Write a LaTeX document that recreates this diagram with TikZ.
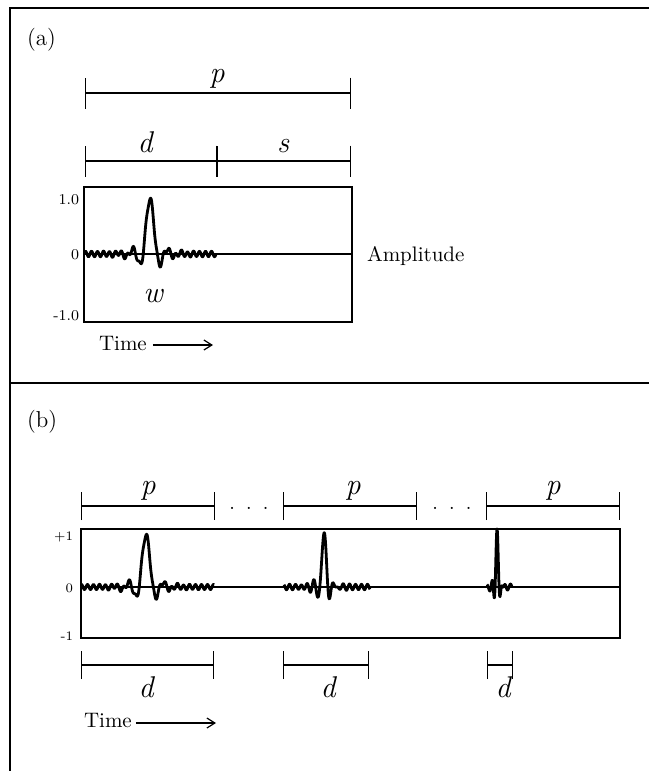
\documentclass[tikz,border=0pt]{standalone}
\usepackage{tikz}
\usetikzlibrary{arrows.meta}
% centre x, zero y, from, to, height, half lobe, taper
\newcommand{\wavelet}[7]{%
  \draw[wave] plot[domain=#3:#4,samples=300]
    ({#1+\x},{#2-#5*(sin(pi/#6*(\x+0.013) r)/(pi/#6*(\x+0.013))*exp(-((\x)/#7)*((\x)/#7))+0.05*sin(60*\x))});
}

\begin{document}
\begin{tikzpicture}[x=0.5pt,y=-0.5pt,inner sep=0pt,outer sep=0pt,
  frame/.style={line width=1.2pt},
  box/.style={line width=1pt},
  dimA/.style={line width=0.6pt,{Bar[width=15.5pt]}-{Bar[width=15.5pt]}},
  dimB/.style={line width=0.6pt,{Bar[width=14pt]}-{Bar[width=14pt]}},
  wave/.style={line width=1.4pt,line join=round},
  arr/.style={line width=0.6pt,-{Straight Barb[length=4pt,width=5pt]}},
  lab/.style={font=\fontsize{15}{17}\selectfont\itshape,anchor=base},
  tickA/.style={font=\fontsize{7.5}{9}\selectfont,anchor=east},
  tickB/.style={font=\fontsize{6.5}{8}\selectfont,anchor=east},
  txt/.style={font=\fontsize{10.5}{12}\selectfont},
  dots/.style={font=\fontsize{10}{12}\selectfont,anchor=base}]
\useasboundingbox (0,0) rectangle (649,771);

% frame
\draw[frame] (10,771) -- (10,8) -- (649,8);
\draw[frame] (10,383) -- (649,383);

% (a)
\node[txt,anchor=west,font=\fontsize{11.5}{13}\selectfont] (laba) at (27,40) {(a)};
\coordinate (pa1) at (85,93);
\coordinate (pa2) at (351,93);
\draw[dimA] (pa1) -- (pa2);
\node[lab] (pA) at (217,82) {p};
\coordinate (da1) at (85,161);
\coordinate (da2) at (217,161);
\coordinate (da3) at (351,161);
\draw[dimA] (da1) -- (da2);
\draw[dimA] (da2) -- (da3);
\node[lab] (dA) at (145,152) {d};
\node[lab] (sA) at (283,152) {s};

\draw[box] (84,187) rectangle (352,322);
\coordinate (za1) at (84,254);
\coordinate (za2) at (352,254);
\draw[line width=0.6pt] (za1) -- (za2);
\node[tickA] (oneA) at (79,200) {1.0};
\node[tickA] (zeroA) at (79,255) {0};
\node[tickA] (moneA) at (79,316) {-1.0};
\wavelet{150}{254}{-65}{66}{55}{7}{30}
\node[lab] (wA) at (153,302) {w};
\node[txt,anchor=base west] (ampl) at (367,261) {Amplitude};

\node[txt,anchor=base west,inner xsep=3pt] (timeA) at (93,350) {Time};
\coordinate (timeAend) at (213,345);
\draw[arr] (timeA.east |- timeAend) -- (timeAend);

% (b)
\node[txt,anchor=west,font=\fontsize{11.5}{13}\selectfont] (labb) at (27,422) {(b)};
\coordinate (pb1) at (81,506);
\coordinate (pb2) at (215,506);
\coordinate (pb3) at (283,506);
\coordinate (pb4) at (417,506);
\coordinate (pb5) at (486,506);
\coordinate (pb6) at (620,506);
\draw[dimB] (pb1) -- (pb2);
\draw[dimB] (pb3) -- (pb4);
\draw[dimB] (pb5) -- (pb6);
\node[lab] (pB1) at (148,494) {p};
\node[lab] (pB2) at (353,494) {p};
\node[lab] (pB3) at (553,494) {p};
\node[dots] (dotsB1) at (249,509) {.\hspace{5.6pt}.\hspace{5.6pt}.};
\node[dots] (dotsB2) at (452,509) {.\hspace{5.6pt}.\hspace{5.6pt}.};

\draw[box] (81,529) rectangle (620,638);
\coordinate (zb1) at (81,587);
\coordinate (zb2) at (620,587);
\draw[line width=0.6pt] (zb1) -- (zb2);
\node[tickB] (oneB) at (73,537) {+1};
\node[tickB] (zeroB) at (73,588) {0};
\node[tickB] (moneB) at (73,636) {-1};
\wavelet{146}{587}{-65}{68}{52}{7}{30}
\wavelet{324}{587}{-40}{46}{54}{4}{18}
\wavelet{497}{587}{-10}{15}{58}{2}{6}

\coordinate (db1) at (81,665);
\coordinate (db2) at (214,665);
\coordinate (db3) at (283,665);
\coordinate (db4) at (369,665);
\coordinate (db5) at (487,665);
\coordinate (db6) at (513,665);
\draw[dimB] (db1) -- (db2);
\draw[dimB] (db3) -- (db4);
\draw[dimB] (db5) -- (db6);
\node[lab] (dB1) at (146,697) {d};
\node[lab] (dB2) at (328,697) {d};
\node[lab] (dB3) at (503,697) {d};

\node[txt,anchor=base west,inner xsep=2pt] (timeB) at (80,727) {Time};
\coordinate (timeBend) at (216,723);
\draw[arr] (timeB.east |- timeBend) -- (timeBend);
\end{tikzpicture}
\end{document}
